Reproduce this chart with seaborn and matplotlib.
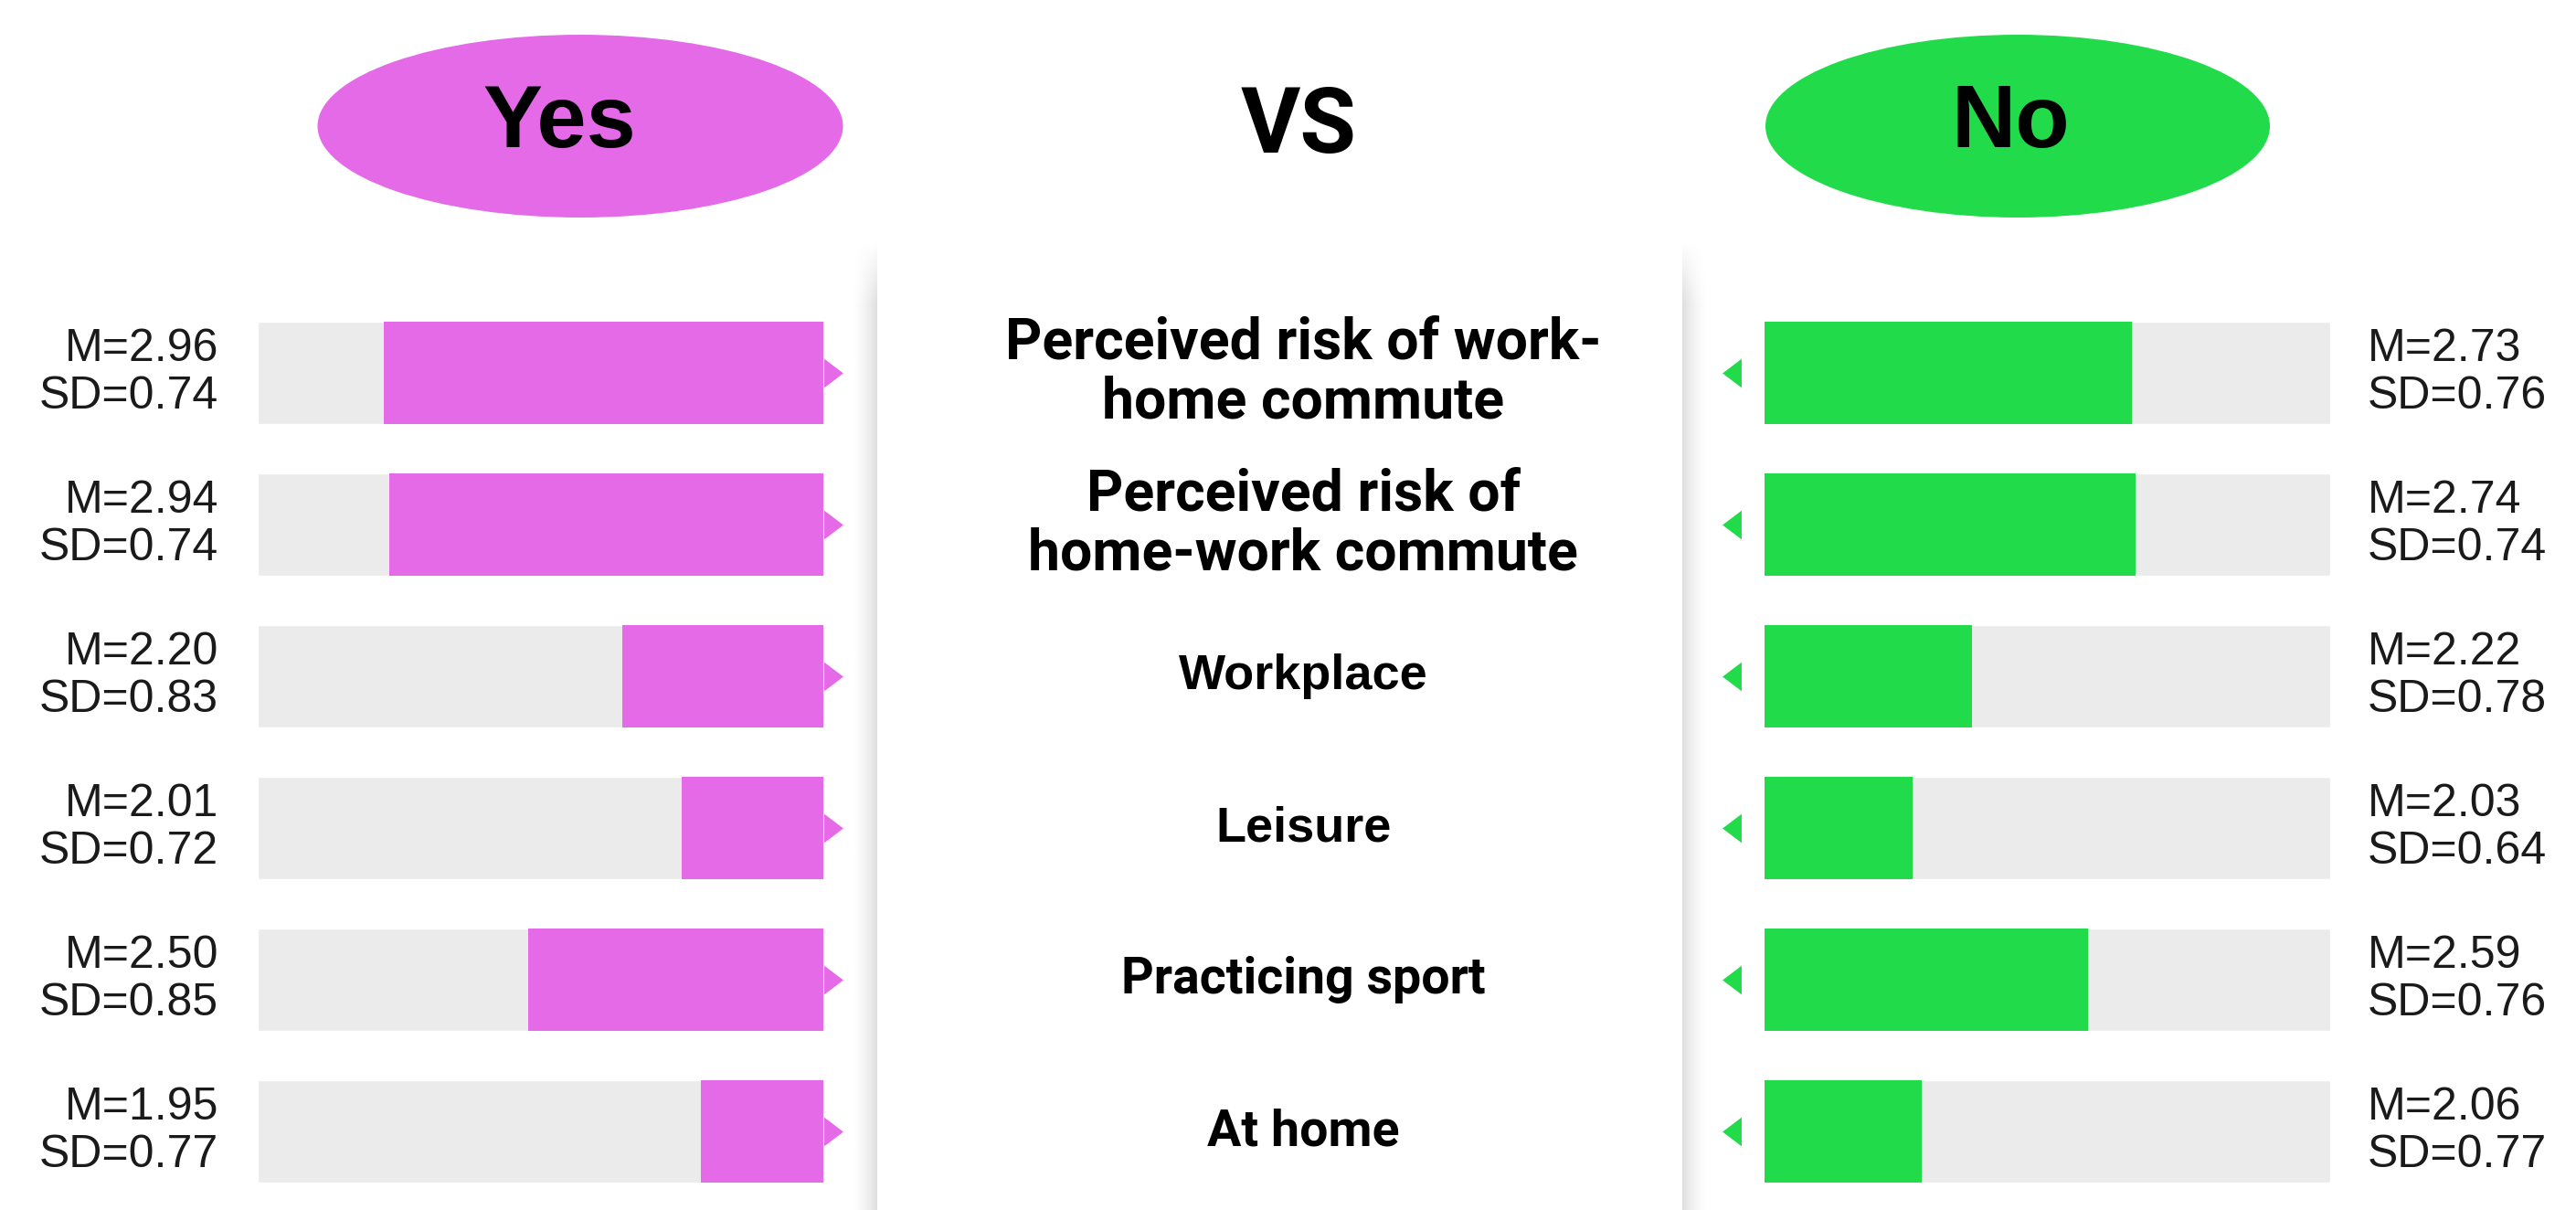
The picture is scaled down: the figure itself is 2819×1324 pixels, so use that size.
import numpy as np
import pandas as pd
import seaborn as sns
import matplotlib.pyplot as plt
from matplotlib.patches import Ellipse
from matplotlib import transforms

categories = ["Perceived risk of work-\nhome commute", "Perceived risk of\nhome-work commute",
              "Workplace", "Leisure", "Practicing sport", "At home"]
yes_mean = [2.96, 2.94, 2.20, 2.01, 2.50, 1.95]
yes_sd = [0.74, 0.74, 0.83, 0.72, 0.85, 0.77]
no_mean = [2.73, 2.74, 2.22, 2.03, 2.59, 2.06]
no_sd = [0.76, 0.74, 0.78, 0.64, 0.76, 0.77]

# label styling (the source mixes sizes/fonts)
label_size = [45, 45, 39, 39, 40, 40]
label_font = ["Roboto", "Roboto", "Liberation Sans", "Liberation Sans", "Roboto", "Roboto"]

PINK = "#e46ae8"
GREEN = "#22db4a"
TRACK = "#ebebeb"
lo, hi = 1.56, 3.36   # visible range of the bar tracks

sns.set_theme(style="white")
plt.rcParams['font.family'] = ['Liberation Sans', 'DejaVu Sans']
plt.rcParams['text.color'] = 'black'

W, H = 2819, 1324
fig = plt.figure(figsize=(W / 100, H / 100), dpi=100)


def px(x0, y0, x1, y1):
    # pixel box (top-left origin) -> figure fraction rect
    return [x0 / W, 1 - y1 / H, (x1 - x0) / W, (y1 - y0) / H]


df = pd.DataFrame({"item": categories, "yes": yes_mean, "no": no_mean})

# background: soft shadow of the middle panel
ax_bg = fig.add_axes([0, 0, 1, 1], zorder=-1)
ax_bg.set_xlim(0, W)
ax_bg.set_ylim(H, 0)
ax_bg.set_axis_off()
fade = np.clip((np.arange(H) - 262) / 70, 0, 1)


def shadow(x0, x1, dark_left):
    xs = np.linspace(0, 1, x1 - x0)
    prof = (1 - xs) ** 1.6 if dark_left else xs ** 1.6
    img = np.zeros((H, x1 - x0, 4))
    img[..., 3] = 0.13 * np.outer(fade, prof)
    ax_bg.imshow(img, extent=(x0, x1, H, 0), aspect='auto', interpolation='bilinear')


shadow(930, 960, dark_left=False)
shadow(1841, 1871, dark_left=True)

ax_l = fig.add_axes(px(282, 325, 901, 1321))
ax_r = fig.add_axes(px(1931, 325, 2550, 1321))

tri = [(-0.66, 1), (-0.66, -1), (0.66, 0)]
tri_l = [(0.66, 1), (0.66, -1), (-0.66, 0)]

for ax, col, color, means, sds in [(ax_l, "yes", PINK, yes_mean, yes_sd),
                                   (ax_r, "no", GREEN, no_mean, no_sd)]:
    sns.barplot(data=df, x=col, y="item", ax=ax, color=color, saturation=1,
                width=0.67, orient="h", linewidth=0, zorder=2)
    ax.barh(np.arange(len(df)), hi - lo, left=lo, height=0.67, color=TRACK, zorder=1)
    ax.set_ylim(len(df) - 0.5, -0.5)
    ax.set_axis_off()
    blend = transforms.blended_transform_factory(ax.transAxes, ax.transData)
    if ax is ax_l:
        ax.set_xlim(hi, lo)
        ax.scatter([1.017] * len(df), np.arange(len(df)), transform=blend, marker=tri,
                   s=520, color=PINK, linewidths=0, clip_on=False)
        tx, ha = -0.069, "right"
    else:
        ax.set_xlim(lo, hi)
        ax.scatter([-0.058] * len(df), np.arange(len(df)), transform=blend, marker=tri_l,
                   s=520, color=GREEN, linewidths=0, clip_on=False)
        tx, ha = 1.066, "left"
    for i, (m, s) in enumerate(zip(means, sds)):
        ax.text(tx, i, f"M={m:.2f}\nSD={s:.2f}", transform=blend, ha=ha, va="center",
                fontsize=36, linespacing=1.15, color="#1a1a1a")

# category labels in the middle panel
mid = transforms.blended_transform_factory(fig.transFigure, ax_l.transData)
for i, lab in enumerate(categories):
    ax_l.text(0.506, i, lab, transform=mid, ha="center", va="center", multialignment="center",
              fontsize=label_size[i], fontweight="bold", family=[label_font[i], "DejaVu Sans"],
              linespacing=1.12, clip_on=False, color="black")

# header
fig.add_artist(Ellipse((635 / W, 1 - 138 / H), 575 / W, 200 / H,
                       transform=fig.transFigure, color=PINK, lw=0))
fig.add_artist(Ellipse((2208 / W, 1 - 138 / H), 552 / W, 200 / H,
                       transform=fig.transFigure, color=GREEN, lw=0))
fig.text(612 / W, 1 - 136 / H, "Yes", ha="center", va="center", fontsize=70,
         fontweight="bold", color="black")
fig.text(2200 / W, 1 - 136 / H, "No", ha="center", va="center", fontsize=70,
         fontweight="bold", color="black")
fig.text(0.504, 1 - 140 / H, "VS", ha="center", va="center", fontsize=72,
         fontweight="bold", family=["Roboto", "DejaVu Sans"], color="black")

fig.savefig("out.png", dpi=100)
